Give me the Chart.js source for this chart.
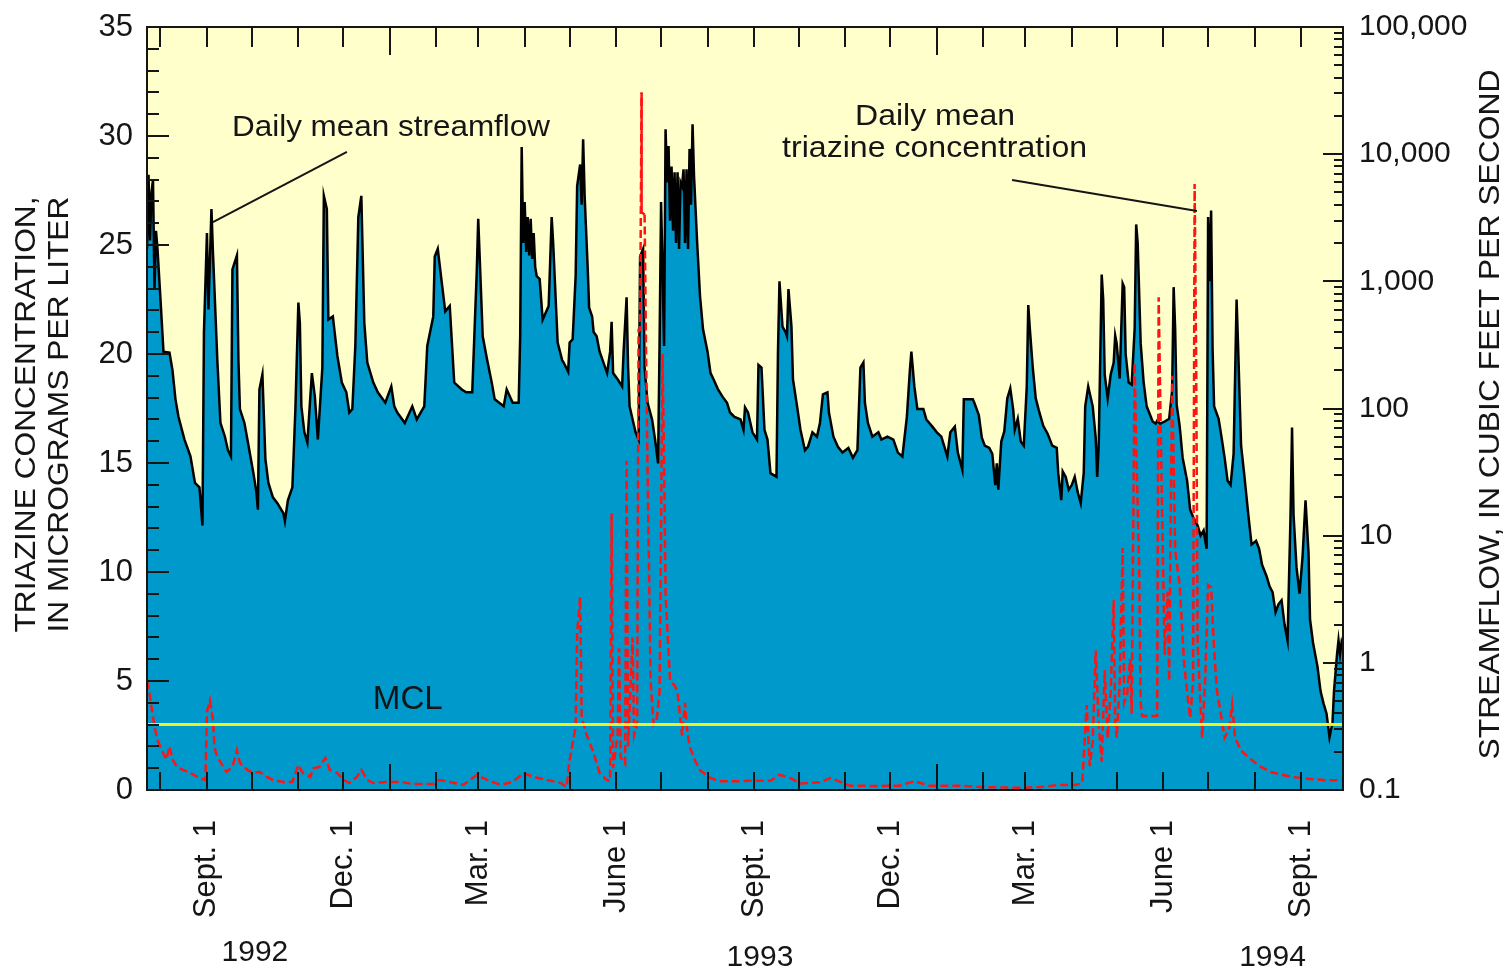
<!DOCTYPE html>
<html>
<head>
<meta charset="utf-8">
<script src="https://cdn.jsdelivr.net/npm/chart.js@4.4.1/dist/chart.umd.min.js"></script>
<style>
  html, body { margin: 0; padding: 0; background: #fff; }
  #wrap { width: 1509px; height: 971px; position: relative; }
</style>
</head>
<body>
<div id="wrap"><canvas id="chart"></canvas></div>
<script>
// x values are days counted from Sept. 1, 1992 (day 0)
const xStart = -40;   // about July 23, 1992
const xEnd = 758;     // about Sept. 29, 1994

// daily mean streamflow, cubic feet per second (right axis, log)
const flowDays = [
  -40, -39, -38, -37, -36, -35, -34, -33, -31, -29, -25, -23, -21, -19, -15, -11, -8, -5, -3, -2,
  0, 1, 3, 4, 7, 9, 12, 14, 16, 17, 20, 21, 22, 25, 27, 31, 33, 34, 35, 37,
  39, 41, 44, 47, 51, 52, 54, 57, 59, 61, 62, 63, 65, 67, 70, 72, 74, 77, 78, 80,
  81, 84, 87, 90, 93, 95, 97, 99, 101, 103, 105, 107, 111, 114, 119, 123, 125, 127, 132, 137,
  140, 145, 147, 151, 152, 154, 157, 159, 162, 165, 170, 173, 177, 180, 181, 184, 187, 190, 192, 198,
  200, 204, 208, 209, 210, 211, 212, 213, 214, 215, 216, 217, 218, 219, 220, 222, 224, 228, 230, 231,
  234, 237, 238, 241, 242, 244, 246, 247, 249, 250, 251, 252, 254, 255, 257, 258, 260, 262, 264, 267,
  269, 270, 271, 274, 277, 278, 280, 281, 282, 284, 286, 288, 289, 291, 292, 294, 297, 299, 301, 302,
  303, 304, 305, 306, 307, 308, 309, 310, 311, 312, 313, 314, 315, 316, 317, 318, 319, 320, 321, 322,
  323, 324, 325, 327, 329, 331, 334, 336, 338, 341, 344, 347, 349, 352, 356, 358, 359, 361, 364, 367,
  368, 370, 372, 374, 376, 380, 381, 382, 384, 386, 387, 388, 390, 391, 394, 396, 399, 401, 404, 407,
  409, 411, 414, 415, 418, 421, 424, 428, 431, 434, 436, 438, 439, 441, 444, 448, 450, 454, 458, 461,
  464, 467, 469, 470, 472, 474, 478, 480, 484, 487, 490, 494, 496, 499, 501, 504, 505, 508, 511, 512,
  515, 517, 519, 522, 524, 526, 527, 528, 530, 532, 534, 536, 538, 539, 541, 543, 545, 547, 548, 549,
  551, 553, 555, 558, 561, 564, 567, 568, 570, 571, 573, 575, 577, 579, 581, 583, 585, 586, 588, 591,
  593, 594, 595, 597, 598, 599, 601, 603, 605, 606, 607, 609, 611, 612, 613, 615, 617, 619, 620, 621,
  623, 625, 627, 631, 633, 634, 636, 639, 642, 644, 645, 646, 647, 649, 651, 654, 656, 658, 661, 663,
  665, 667, 668, 669, 670, 671, 672, 675, 677, 679, 681, 683, 685, 687, 688, 690, 692, 695, 697, 700,
  702, 704, 707, 709, 711, 713, 715, 717, 719, 721, 723, 724, 725, 727, 729, 731, 733, 735, 736, 738,
  741, 743, 745, 747, 749, 751, 752, 754, 755, 756, 757, 758
];
const flowCfs = [
  1800, 6900, 2100, 5000, 6300, 870, 2500, 1800, 720, 280, 275, 200, 118, 86, 57, 42, 26, 24, 12, 400,
  2400, 600, 3700, 1700, 230, 77, 60, 47, 42, 1240, 1600, 240, 99, 77, 57, 31, 22, 16, 141, 185,
  40, 26, 20, 18, 15, 13, 19, 24, 98, 680, 470, 104, 65, 54, 190, 124, 57, 210, 4700, 3700,
  500, 530, 260, 160, 134, 93, 99, 310, 3200, 4700, 470, 230, 160, 134, 111, 149, 104, 93, 77, 104,
  82, 104, 310, 530, 1570, 1800, 910, 580, 640, 160, 141, 134, 134, 1180, 3100, 370, 240, 160, 118, 104,
  141, 111, 111, 370, 11400, 2000, 4200, 1700, 3200, 1600, 3100, 1500, 2400, 1300, 1100, 1040, 500, 640, 3200, 2000,
  330, 240, 230, 195, 330, 350, 1100, 5600, 8300, 4000, 13100, 4700, 1310, 620, 530, 400, 370, 280, 240, 190,
  280, 480, 190, 170, 149, 280, 750, 210, 104, 82, 65, 57, 1570, 1800, 210, 111, 82, 57, 37, 330,
  4200, 1240, 310, 15700, 6000, 11600, 3000, 8000, 2500, 7200, 2000, 7200, 1800, 6000, 5600, 7600, 2000, 7600, 1800, 11000,
  4000, 17200, 6700, 2100, 760, 420, 280, 190, 170, 141, 124, 111, 93, 86, 82, 68, 102, 93, 65, 57,
  220, 210, 68, 57, 31, 29, 280, 1000, 440, 400, 370, 870, 440, 170, 99, 68, 47, 50, 65, 60,
  77, 129, 134, 93, 60, 50, 45, 49, 41, 47, 210, 230, 111, 77, 60, 65, 57, 60, 57, 45,
  42, 86, 200, 280, 149, 99, 99, 82, 72, 65, 60, 42, 65, 72, 45, 33, 118, 118, 118, 111,
  89, 59, 51, 49, 44, 25, 37, 23, 55, 66, 120, 144, 97, 68, 83, 55, 51, 149, 650, 430,
  210, 120, 97, 73, 63, 51, 49, 31, 19, 32, 29, 23, 25, 29, 22, 18, 31, 104, 149, 104,
  59, 29, 51, 1130, 720, 185, 120, 185, 230, 375, 325, 172, 960, 900, 266, 160, 154, 430, 2800, 2000,
  325, 160, 104, 79, 76, 80, 76, 79, 83, 139, 900, 430, 107, 73, 41, 27, 16, 14, 12, 10,
  11, 7.9, 3200, 1000, 3600, 290, 104, 83, 59, 41, 27, 25, 44, 720, 310, 51, 31, 14, 8.5, 9.1,
  7.9, 5.9, 4.8, 4.0, 3.6, 2.5, 2.9, 3.1, 2.0, 1.5, 14.6, 71, 14.6, 5.6, 3.5, 6.8, 19, 7.3, 2.2, 1.44,
  0.93, 0.60, 0.48, 0.40, 0.26, 0.34, 0.60, 1.16, 1.5, 1.16, 1.44, 1.3
];

// daily mean triazine concentration, micrograms per liter (left axis)
const triazineDays = [
  -40, -38, -37, -35, -33, -30, -27, -25, -23, -20, -16, -11, -5, -1, 0, 2, 4, 5, 6, 7,
  11, 13, 17, 20, 22, 27, 31, 35, 40, 44, 51, 57, 61, 64, 69, 71, 75, 79, 82, 87,
  91, 95, 100, 103, 107, 111, 120, 129, 137, 151, 155, 162, 171, 180, 187, 196, 204, 211, 218, 227,
  236, 240, 242, 246, 247, 249, 250, 253, 258, 262, 266, 269, 270, 271, 274, 275, 276, 279, 280, 281,
  284, 285, 287, 288, 289, 290, 290, 292, 293, 294, 296, 298, 300, 302, 304, 305, 306, 309, 312, 314,
  317, 319, 320, 322, 326, 329, 336, 342, 352, 362, 376, 382, 389, 396, 409, 416, 429, 449, 462, 472,
  482, 502, 516, 529, 543, 556, 569, 579, 584, 585, 587, 589, 591, 593, 595, 597, 599, 601, 603, 605,
  606, 607, 609, 611, 612, 614, 616, 617, 619, 620, 622, 623, 624, 634, 635, 637, 639, 641, 642, 644,
  646, 649, 652, 654, 656, 658, 659, 660, 661, 664, 666, 668, 670, 672, 674, 676, 679, 682, 684, 686,
  690, 695, 702, 711, 724, 736, 747, 758
];
const triazineConc = [
  5.0, 4.3, 3.8, 2.9, 2.3, 1.8, 1.4, 2.0, 1.4, 1.06, 0.92, 0.78, 0.55, 0.46, 3.6, 4.1, 3.2, 2.0, 1.7, 1.5,
  1.06, 0.83, 1.06, 1.83, 1.24, 0.92, 0.78, 0.83, 0.6, 0.46, 0.37, 0.37, 1.15, 0.78, 0.6, 1.0, 1.06, 1.47, 0.92, 0.78,
  0.46, 0.32, 0.6, 0.92, 0.46, 0.32, 0.37, 0.37, 0.28, 0.28, 0.46, 0.37, 0.23, 0.69, 0.46, 0.23, 0.37, 0.78, 0.6, 0.46,
  0.32, 0.14, 1.38, 2.9, 7.2, 8.85, 3.35, 2.6, 1.7, 0.78, 0.5, 0.4, 12.7, 1.0, 2.5, 6.5, 1.5, 1.2, 15.1, 2.0,
  7.0, 2.5, 3.0, 21.1, 21.1, 32, 26.5, 26.4, 20, 14.7, 5.0, 3.0, 3.2, 4.5, 20, 15, 9.0, 5.0, 4.8, 4.5,
  2.5, 4.0, 3.0, 2.0, 1.3, 0.9, 0.55, 0.4, 0.4, 0.42, 0.42, 0.7, 0.55, 0.3, 0.35, 0.55, 0.2, 0.18, 0.2, 0.4,
  0.2, 0.2, 0.14, 0.12, 0.1, 0.14, 0.23, 0.23, 0.3, 1.5, 3.9, 1.1, 2.2, 6.4, 3.0, 1.3, 5.5, 2.4, 4.5, 8.7,
  3.0, 2.4, 4.9, 11.1, 4.0, 4.4, 6.0, 3.5, 19.6, 15.8, 10.2, 4.0, 3.4, 3.4, 22.6, 13.9, 6.2, 9.1, 5.0, 19.0,
  11, 9.4, 5.8, 4.5, 3.3, 5, 27.8, 20, 6.7, 2.4, 5, 9.4, 9.3, 6.4, 4.5, 3.7, 2.4, 2.8, 3.9, 2.4,
  1.8, 1.5, 1.1, 0.8, 0.6, 0.5, 0.45, 0.45
];

// maximum contaminant level for triazine
const mclValue = 3;

// axis ticks and labels
const xTickDays = [0, 91, 181, 273, 365, 456, 546, 638, 730];
const xTickLabels = ['Sept. 1', 'Dec. 1', 'Mar. 1', 'June 1', 'Sept. 1', 'Dec. 1', 'Mar. 1', 'June 1', 'Sept. 1'];
const monthStartDays = [-31, 0, 30, 61, 91, 122, 153, 181, 212, 242, 273, 303, 334, 365, 395, 426, 456, 487, 518, 546, 577, 607, 638, 668, 699, 730];
const yearStartDays = [122, 487];
const yearLabels = ['1992', '1993', '1994'];
const yearLabelDays = [32, 369, 711];
const leftTickValues = [0, 5, 10, 15, 20, 25, 30, 35];
const rightTickValues = [0.1, 1, 10, 100, 1000, 10000, 100000];
const rightTickLabels = ['0.1', '1', '10', '100', '1,000', '10,000', '100,000'];

const FONT = '"Liberation Sans", Arial, Helvetica, sans-serif';
const INK = '#151515';
const PAPER = '#FFFFCC';
const WATER = '#0099CC';

// text fitted to a measured width, so the letter spacing looks like the original
function fitText(ctx, text, x, y, width, size) {
  ctx.font = size + 'px ' + FONT;
  const w = ctx.measureText(text).width;
  ctx.save();
  ctx.translate(x, y);
  ctx.scale(width / w, 1);
  ctx.textAlign = 'center';
  ctx.textBaseline = 'middle';
  ctx.fillText(text, 0, 0);
  ctx.restore();
}

function line(ctx, x1, y1, x2, y2) {
  ctx.beginPath();
  ctx.moveTo(x1, y1);
  ctx.lineTo(x2, y2);
  ctx.stroke();
}

// keep the plot box where the original has it, whatever the label sizes
function fixWidth(w) {
  return s => { s.width = w; s.paddingTop = 0; s.paddingBottom = 0; };
}

const framePlugin = {
  id: 'frame',
  beforeDraw(chart) {
    const {ctx, chartArea: a} = chart;
    ctx.save();
    ctx.fillStyle = PAPER;
    ctx.fillRect(a.left, a.top, a.right - a.left, a.bottom - a.top);
    ctx.restore();
  },
  afterDatasetsDraw(chart) {
    const {ctx, chartArea: a, scales} = chart;
    const x = scales.x, yL = scales.yL, yR = scales.yR;
    ctx.save();
    ctx.strokeStyle = INK;
    ctx.lineWidth = 2;
    ctx.lineCap = 'butt';

    // left axis, a tick every unit, long ones every 5
    for (let v = 0; v <= 35; v++) {
      const py = Math.round(yL.getPixelForValue(v));
      line(ctx, a.left, py, a.left + (v % 5 === 0 ? 22 : 12), py);
    }
    // right axis, log ticks
    for (let d = -1; d <= 4; d++) {
      for (let m = 1; m <= 9; m++) {
        const py = Math.round(yR.getPixelForValue(m * Math.pow(10, d)));
        line(ctx, a.right, py, a.right - (m === 1 ? 20 : 9), py);
      }
    }
    const py = Math.round(yR.getPixelForValue(100000));
    line(ctx, a.right, py, a.right - 20, py);

    // month ticks along top and bottom
    monthStartDays.forEach(d => {
      const px = Math.round(x.getPixelForValue(d));
      const isYear = yearStartDays.includes(d);
      line(ctx, px, a.top, px, a.top + (isYear ? 28 : 20));
      line(ctx, px, a.bottom, px, a.bottom - (isYear ? 26 : 18));
    });

    ctx.strokeRect(a.left, a.top, a.right - a.left, a.bottom - a.top);
    ctx.restore();
  },
  afterDraw(chart) {
    const {ctx, chartArea: a, scales} = chart;
    const x = scales.x, yL = scales.yL;
    ctx.save();
    ctx.fillStyle = INK;
    ctx.strokeStyle = INK;
    ctx.lineWidth = 2;

    // annotations, placed in data units (days, micrograms per liter)
    fitText(ctx, 'Daily mean streamflow', x.getPixelForValue(122.8), yL.getPixelForValue(30.4), 318, 30);
    line(ctx, x.getPixelForValue(4), yL.getPixelForValue(26.05), x.getPixelForValue(93.4), yL.getPixelForValue(29.27));

    fitText(ctx, 'Daily mean', x.getPixelForValue(485.8), yL.getPixelForValue(30.87), 160, 30);
    fitText(ctx, 'triazine concentration', x.getPixelForValue(485.5), yL.getPixelForValue(29.4), 305, 30);
    line(ctx, x.getPixelForValue(537.2), yL.getPixelForValue(27.98), x.getPixelForValue(660.6), yL.getPixelForValue(26.56));

    fitText(ctx, 'MCL', x.getPixelForValue(134), yL.getPixelForValue(4.13), 70, 34);

    // years under the month labels
    ctx.font = '30px ' + FONT;
    ctx.textAlign = 'center';
    ctx.textBaseline = 'middle';
    yearLabels.forEach((t, i) => {
      ctx.fillText(t, x.getPixelForValue(yearLabelDays[i]), i === 0 ? 953 : 958);
    });

    // axis titles
    const midY = (a.top + a.bottom) / 2 + 6;
    ctx.save();
    ctx.translate(27, midY);
    ctx.rotate(-Math.PI / 2);
    fitText(ctx, 'TRIAZINE CONCENTRATION,', 0, 0, 436, 30);
    ctx.restore();
    ctx.save();
    ctx.translate(60, midY);
    ctx.rotate(-Math.PI / 2);
    fitText(ctx, 'IN MICROGRAMS PER LITER', 0, 0, 436, 30);
    ctx.restore();
    ctx.save();
    ctx.translate(1491, midY);
    ctx.rotate(-Math.PI / 2);
    fitText(ctx, 'STREAMFLOW, IN CUBIC FEET PER SECOND', 0, 0, 690, 30);
    ctx.restore();

    ctx.restore();
  }
};

const flowPoints = flowDays.map((d, i) => ({x: d, y: flowCfs[i]}));
const triazinePoints = triazineDays.map((d, i) => ({x: d, y: triazineConc[i]}));
const mclPoints = [{x: xStart, y: mclValue}, {x: xEnd, y: mclValue}];

const chart = new Chart(document.getElementById('chart'), {
  type: 'line',
  data: {
    datasets: [
      {
        label: 'MCL',
        data: mclPoints,
        yAxisID: 'yL',
        borderColor: '#EEEE22',
        borderWidth: 3,
        pointRadius: 0,
        order: 0
      },
      {
        label: 'Daily mean triazine concentration',
        data: triazinePoints,
        yAxisID: 'yL',
        borderColor: '#FF1414',
        borderWidth: 2.5,
        borderDash: [8, 4],
        pointRadius: 0,
        order: 1,
        segment: {
          borderDash: c => (c.p0.parsed.y > 26 && c.p1.parsed.y > 26) ? [] : undefined
        }
      },
      {
        label: 'Daily mean streamflow',
        data: flowPoints,
        yAxisID: 'yR',
        borderColor: '#000',
        borderWidth: 2.5,
        backgroundColor: WATER,
        fill: 'start',
        pointRadius: 0,
        order: 2
      }
    ]
  },
  options: {
    responsive: true,
    maintainAspectRatio: false,
    animation: false,
    layout: { padding: { top: 27 } },
    elements: { line: { tension: 0 } },
    plugins: {
      legend: { display: false },
      tooltip: { enabled: false }
    },
    scales: {
      x: {
        type: 'linear',
        min: xStart,
        max: xEnd,
        afterBuildTicks: s => { s.ticks = xTickDays.map(v => ({value: v})); },
        afterFit: s => { s.height = 181; s.paddingLeft = 0; s.paddingRight = 0; },
        grid: { display: false, drawTicks: false },
        border: { display: false },
        ticks: {
          autoSkip: false,
          minRotation: 90,
          maxRotation: 90,
          padding: 30,
          color: INK,
          font: { family: FONT, size: 31 },
          callback: (v, i) => xTickLabels[i]
        }
      },
      yL: {
        type: 'linear',
        position: 'left',
        min: 0,
        max: 35,
        afterBuildTicks: s => { s.ticks = leftTickValues.map(v => ({value: v})); },
        afterFit: fixWidth(147),
        grid: { display: false, drawTicks: false },
        border: { display: false },
        ticks: {
          padding: 14,
          color: INK,
          font: { family: FONT, size: 31 }
        }
      },
      yR: {
        type: 'logarithmic',
        position: 'right',
        min: 0.1,
        max: 100000,
        afterBuildTicks: s => { s.ticks = rightTickValues.map(v => ({value: v})); },
        afterFit: fixWidth(166),
        grid: { display: false, drawTicks: false },
        border: { display: false },
        ticks: {
          padding: 16,
          color: INK,
          font: { family: FONT, size: 30 },
          callback: (v, i) => rightTickLabels[i]
        }
      }
    }
  },
  plugins: [framePlugin]
});
</script>
</body>
</html>
